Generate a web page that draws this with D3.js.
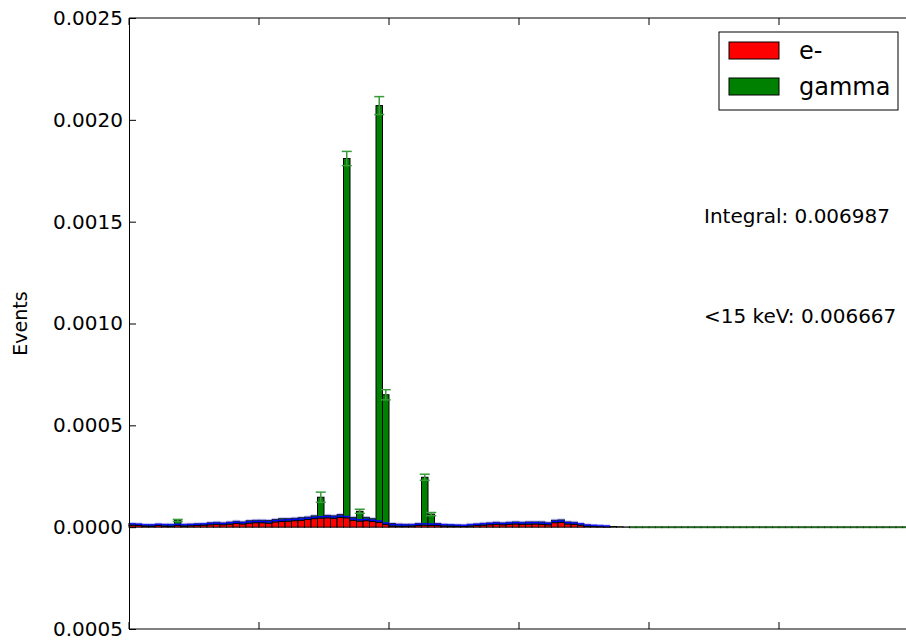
<!DOCTYPE html>
<html>
<head>
<meta charset="utf-8">
<script src="https://cdn.jsdelivr.net/npm/d3@7"></script>
<style>
  body { margin: 0; background: #fff; }
  svg { display: block; font-family: "DejaVu Sans", sans-serif; }
</style>
</head>
<body>
<div id="chart"></div>
<script>
// Histogram contents per bin (units of 1e-6 events)
var eMinus = [
  10, 8, 6, 5, 8, 6, 5, 8, 6, 7, 8, 10, 12, 14, 12, 15, 18, 16, 20, 22,
  22, 20, 26, 28, 30, 32, 34, 38, 42, 45, 46, 44, 48, 46, 34, 30, 32, 28, 24, 14,
  6, 5, 4, 6, 8, 10, 9, 8, 6, 5, 4, 3, 6, 8, 10, 12, 14, 12, 14, 16,
  14, 15, 16, 14, 12, 22, 24, 16, 14, 10, 4, 3, 2, 1, 0, 0, 0, 0, 0, 0,
  0, 0, 0, 0, 0, 0, 0, 0, 0, 0, 0, 0, 0, 0, 0, 0, 0, 0, 0, 0,
  0, 0, 0, 0, 0, 0, 0, 0, 0, 0, 0, 0, 0, 0, 0, 0, 0, 0, 0, 0
];
var gamma = [
  8, 8, 7, 8, 7, 8, 9, 25, 8, 8, 9, 8, 10, 10, 9, 10, 11, 10, 12, 12,
  12, 13, 12, 14, 12, 12, 13, 12, 14, 102, 12, 12, 14, 1764, 14, 48, 16, 14, 2046, 636,
  12, 10, 10, 8, 10, 235, 55, 10, 8, 8, 7, 7, 8, 8, 9, 9, 10, 9, 10, 10,
  10, 11, 10, 12, 10, 12, 12, 10, 10, 8, 8, 6, 5, 4, 3, 2, 1, 0, 0, 0,
  0, 0, 0, 0, 0, 0, 0, 0, 0, 0, 0, 0, 0, 0, 0, 0, 0, 0, 0, 0,
  0, 0, 0, 0, 0, 0, 0, 0, 0, 0, 0, 0, 0, 0, 0, 0, 0, 0, 0, 0
];
// error bars on the gamma peaks
var errBins = [7, 29, 33, 35, 38, 39, 45, 46];
var errVals = [5, 25, 35, 10, 44, 25, 15, 8];

var yTicks = [-0.0005, 0.0000, 0.0005, 0.0010, 0.0015, 0.0020, 0.0025];
var yTickLabels = ["0.0005", "0.0000", "0.0005", "0.0010", "0.0015", "0.0020", "0.0025"];
var xTicks = [0, 20, 40, 60, 80, 100, 120, 140, 160];

var seriesNames = ["e-", "gamma"];
var seriesColors = ["#ff0000", "#008000"];

var annotations = ["Integral: 0.006987", "<15 keV: 0.006667"];

var W = 906, H = 641;
var margin = { left: 129, top: 18, bottom: 12 };
var nBins = 160;
var binPx = 6.5;

var svg = d3.select("#chart").append("svg")
    .attr("width", W)
    .attr("height", H);

var x = d3.scaleLinear().domain([0, nBins]).range([margin.left, margin.left + nBins * binPx]);
var y = d3.scaleLinear().domain([-0.0005, 0.0025]).range([H - margin.bottom, margin.top]);

var bins = eMinus.map(function(v, i) {
    return { i: i, e: v * 1e-6, g: gamma[i] * 1e-6 };
});

// empty bins still show the histogram outline along zero
svg.append("g").selectAll("rect")
    .data(bins.filter(d => d.e + d.g === 0))
    .enter().append("rect")
    .attr("x", d => x(d.i))
    .attr("y", y(0) - 1)
    .attr("width", x(1) - x(0))
    .attr("height", 2)
    .attr("fill", "#1f6a1f");
svg.append("g").selectAll("line")
    .data(bins.filter(d => d.e + d.g === 0))
    .enter().append("line")
    .attr("x1", d => x(d.i)).attr("x2", d => x(d.i))
    .attr("y1", y(0) - 1).attr("y2", y(0) + 1)
    .attr("stroke", "#333");

// red (e-) bars
svg.append("g").selectAll("rect")
    .data(bins.filter(d => d.e > 0))
    .enter().append("rect")
    .attr("x", d => x(d.i))
    .attr("y", d => y(d.e))
    .attr("width", x(1) - x(0))
    .attr("height", d => y(0) - y(d.e))
    .attr("fill", seriesColors[0])
    .attr("stroke", "#000")
    .attr("stroke-width", 1);

// green (gamma) bars stacked on top
svg.append("g").selectAll("rect")
    .data(bins.filter(d => d.g > 0))
    .enter().append("rect")
    .attr("x", d => x(d.i))
    .attr("y", d => y(d.e + d.g))
    .attr("width", x(1) - x(0))
    .attr("height", d => y(d.e) - y(d.e + d.g))
    .attr("fill", seriesColors[1])
    .attr("stroke", "#000")
    .attr("stroke-width", 1);

// blue error band for e-, and light blue band over the total
svg.append("g").selectAll("rect")
    .data(bins.filter(d => d.e > 0))
    .enter().append("rect")
    .attr("x", d => x(d.i))
    .attr("y", d => y(d.e) - 2)
    .attr("width", x(1) - x(0))
    .attr("height", 1.5)
    .attr("fill", "#0000ff");

svg.append("g").selectAll("rect")
    .data(bins.filter(d => d.e > 0 && d.g < 20e-6))
    .enter().append("rect")
    .attr("x", d => x(d.i))
    .attr("y", d => y(d.e + d.g) - 1.5)
    .attr("width", x(1) - x(0))
    .attr("height", 1.5)
    .attr("fill", "#8888ff")
    .attr("opacity", 0.45);

// gamma error bars
var errG = svg.append("g")
    .attr("stroke", "#3a9a3a")
    .attr("stroke-width", 1.5);
errBins.forEach(function(b, k) {
    var top = (eMinus[b] + gamma[b]) * 1e-6;
    var err = errVals[k] * 1e-6;
    var cx = x(b + 0.5);
    errG.append("line")
        .attr("x1", cx).attr("x2", cx)
        .attr("y1", y(top + err)).attr("y2", y(top - err));
    [top + err, top - err].forEach(function(v) {
        errG.append("line")
            .attr("x1", cx - 5).attr("x2", cx + 5)
            .attr("y1", y(v)).attr("y2", y(v));
    });
});

// frame
svg.append("line")
    .attr("x1", margin.left).attr("x2", W)
    .attr("y1", y(0.0025)).attr("y2", y(0.0025))
    .attr("stroke", "#000");
svg.append("line")
    .attr("x1", margin.left).attr("x2", W)
    .attr("y1", y(-0.0005)).attr("y2", y(-0.0005))
    .attr("stroke", "#000");

// y axis with inward ticks
var yAxis = svg.append("g")
    .attr("transform", "translate(" + margin.left + ",0)")
    .call(d3.axisLeft(y)
        .tickValues(yTicks)
        .tickFormat((d, i) => yTickLabels[i])
        .tickSizeInner(-7)
        .tickSizeOuter(0)
        .tickPadding(6));
yAxis.select(".domain").attr("stroke", "#000");
yAxis.selectAll("text")
    .attr("x", -6)
    .style("font-family", "DejaVu Sans")
    .style("font-size", "20px")
    .attr("fill", "#000");

// x ticks (labels are outside the visible area)
var xTickG = svg.append("g");
xTicks.forEach(function(t) {
    xTickG.append("line")
        .attr("x1", x(t)).attr("x2", x(t))
        .attr("y1", y(-0.0005)).attr("y2", y(-0.0005) - 7)
        .attr("stroke", "#000");
    xTickG.append("line")
        .attr("x1", x(t)).attr("x2", x(t))
        .attr("y1", y(0.0025)).attr("y2", y(0.0025) + 7)
        .attr("stroke", "#000");
});

// y axis title
svg.append("text")
    .attr("transform", "translate(27," + y(0.001) + ") rotate(-90)")
    .attr("text-anchor", "middle")
    .style("font-size", "19px")
    .text("Events");

// annotations
svg.append("text")
    .attr("x", 704).attr("y", 223)
    .style("font-size", "20px")
    .text(annotations[0]);
svg.append("text")
    .attr("x", 704).attr("y", 323)
    .style("font-size", "20px")
    .text(annotations[1]);

// legend
var legend = svg.append("g").attr("transform", "translate(719,32)");
legend.append("rect")
    .attr("width", 179).attr("height", 78)
    .attr("fill", "#fff")
    .attr("stroke", "#000");
seriesNames.forEach(function(name, i) {
    legend.append("rect")
        .attr("x", 10).attr("y", 10 + i * 36)
        .attr("width", 50).attr("height", 17)
        .attr("fill", seriesColors[i])
        .attr("stroke", "#000");
    legend.append("text")
        .attr("x", 80).attr("y", 27 + i * 36)
        .style("font-size", "24px")
        .text(name);
});
</script>
</body>
</html>
